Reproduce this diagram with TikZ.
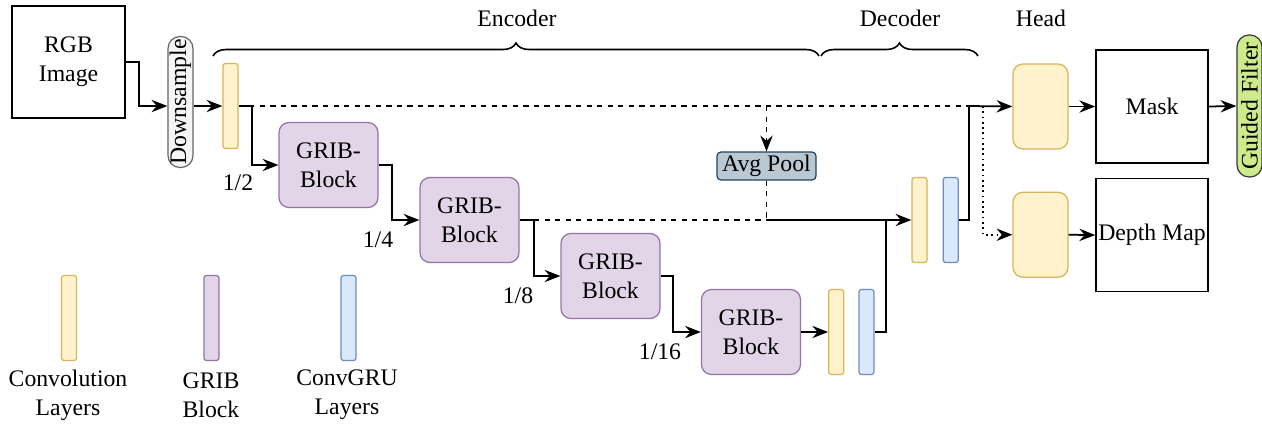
\documentclass[tikz,border=0pt]{standalone}
\usepackage{fontspec}
\setmainfont{Liberation Serif}
\usepackage{xcolor}
\definecolor{convFill}{HTML}{FFF2CC}
\definecolor{convBorder}{HTML}{D6B656}
\definecolor{gribFill}{HTML}{E1D5E7}
\definecolor{gribBorder}{HTML}{9673A6}
\definecolor{gruFill}{HTML}{DAE8FC}
\definecolor{gruBorder}{HTML}{6C8EBF}
\definecolor{downFill}{HTML}{F5F5F5}
\definecolor{downBorder}{HTML}{666666}
\definecolor{poolFill}{HTML}{BAC8D3}
\definecolor{poolBorder}{HTML}{23445D}
\definecolor{filterFill}{HTML}{CDEB8B}
\definecolor{filterBorder}{HTML}{36393D}
\usepackage{tikz}
\usetikzlibrary{arrows.meta,positioning,decorations.pathreplacing,calc}
\newcommand{\diafont}{\fontsize{13.5}{16.5}\selectfont}
\tikzset{
    basic/.style={
        draw=black,
        fill=white,
        rectangle,
        align=center,
        line width=0.9pt,
        inner sep=1pt,
        font=\diafont
    },
    convbar/.style={
        draw=convBorder,
        fill=convFill,
        rectangle,
        rounded corners=0.5mm,
        minimum width=3mm,
        minimum height=17mm,
        inner sep=0pt,
        line width=0.7pt
    },
    grubar/.style={
        convbar,
        draw=gruBorder,
        fill=gruFill
    },
    gribbar/.style={
        convbar,
        draw=gribBorder,
        fill=gribFill
    },
    grib/.style={
        draw=gribBorder,
        fill=gribFill,
        rectangle,
        rounded corners=2mm,
        align=center,
        minimum width=19.8mm,
        minimum height=17mm,
        line width=0.7pt,
        font=\diafont
    },
    headbox/.style={
        convbar,
        rounded corners=2mm,
        minimum width=11mm
    },
    pill/.style={
        draw=downBorder,
        fill=downFill,
        rectangle,
        rounded corners=2.4mm,
        minimum width=5mm,
        inner sep=1pt,
        line width=0.7pt,
        font=\diafont
    },
    pool/.style={
        draw=poolBorder,
        fill=poolFill,
        rectangle,
        rounded corners=0.8mm,
        minimum width=19.8mm,
        minimum height=5.6mm,
        inner sep=1pt,
        line width=0.7pt,
        font=\diafont
    },
    arrow/.style={
        -{Stealth[length=9pt,width=7pt,inset=3pt]},
        line width=1pt,
        color=black
    },
    line/.style={
        line width=1pt,
        color=black
    },
    skip/.style={
        line width=1pt,
        dash pattern=on 3pt off 3pt
    },
    brace/.style={
        decorate,
        decoration={brace,amplitude=2.6mm},
        line width=0.9pt
    },
    label/.style={
        font=\diafont,
        align=center,
        inner sep=0pt
    }
}

\begin{document}
\begin{tikzpicture}[x=0.2mm,y=-0.2mm]
    \useasboundingbox (0,0) rectangle (1262,423);

    % Input and downsampling
    \node[basic, minimum width=22.6mm, minimum height=22.4mm] (rgb) at (68.5,62) {RGB\\Image};
    \node[pill, minimum height=26.2mm] (down) at (180.5,102) {\rotatebox{90}{Downsample}};
    \node[convbar] (conv1) at (230.5,106) {};

    % Encoder
    \node[grib] (grib1) at (328.5,165) {GRIB-\\Block};
    \node[grib] (grib2) at (469.5,220) {GRIB-\\Block};
    \node[grib] (grib3) at (610.5,276) {GRIB-\\Block};
    \node[grib] (grib4) at (751,332) {GRIB-\\Block};

    \node[label] (s1) at (238,183) {1/2};
    \node[label] (s2) at (378,240) {1/4};
    \node[label] (s3) at (518,296) {1/8};
    \node[label] (s4) at (660,352) {1/16};

    % Decoder
    \node[convbar, right=5.4mm of grib4] (conv3) {};
    \node[grubar, right=2.8mm of conv3] (gru3) {};
    \node[convbar] (conv2) at (919.5,220) {};
    \node[grubar, right=3mm of conv2] (gru2) {};
    \node[pool] (pool) at (766.5,166) {Avg Pool};

    % Heads
    \node[headbox] (head1) at (1040.5,106.5) {};
    \node[headbox, below=8.4mm of head1] (head2) {};
    \node[basic, minimum width=22.4mm, minimum height=22.6mm] (mask) at (1152,106.5) {Mask};
    \node[basic, minimum width=22.4mm, minimum height=22.6mm, below=2.8mm of mask] (depth) {Depth Map};
    \node[pill, draw=filterBorder, fill=filterFill, minimum height=28.4mm] (filter) at (1249.5,106) {\rotatebox{90}{Guided Filter}};

    % Section braces
    \draw[brace] (213,56) -- (819,56);
    \draw[brace] (821,56) -- (978,56);
    \node[label] (enc) at (517,18) {Encoder};
    \node[label] (dec) at (900,18) {Decoder};
    \node[label] (hd) at (1041,18) {Head};

    % Junctions
    \coordinate (j1) at (969,106);
    \coordinate (d1) at (983,106);
    \coordinate (b2) at (534,220);
    \coordinate (m1) at (pool.south |- conv2.west);
    \coordinate (m2) at (886,220);

    % Skip connections
    \draw[skip] (conv1.east) -- (j1);
    \draw[skip] (b2) -- (m1);
    \draw[skip] (pool.south) -- (m1);
    \draw[arrow, skip] (pool.north |- conv1.east) -- (pool.north);
    \draw[arrow, dotted] (d1) |- (head2.west);

    % Main path
    \draw[arrow] (rgb.east) -- ++(13.5,0) |- (down.west |- conv1.west);
    \draw[arrow] (down.east |- conv1.west) -- (conv1.west);
    \draw[arrow] (conv1.east) -- ++(13.5,0) |- (grib1.west);
    \draw[arrow] (grib1.east) -- ++(13,0) |- (grib2.west);
    \draw[arrow] (grib2.east) -- (b2) |- (grib3.west);
    \draw[arrow] (grib3.east) -- ++(12,0) |- (grib4.west);
    \draw[arrow] (grib4.east) -- (conv3.west);
    \draw[line] (gru3.east) -| (m2);
    \draw[arrow] (m1) -- (conv2.west);
    \draw[arrow] (gru2.east) -| (j1) -- (head1.west);
    \draw[arrow] (head1.east) -- (mask.west);
    \draw[arrow] (head2.east) -- (depth.west);
    \draw[arrow] (mask.east) -- (filter.west);

    % Legend
    \node[convbar] (lconv) at (69,318) {};
    \node[gribbar] (lgrib) at (211.5,318) {};
    \node[grubar] (lgru) at (348.5,318) {};
    \node[label] (tconv) at (68,395) {Convolution\\Layers};
    \node[label] (tgrib) at (211,395) {GRIB\\Block};
    \node[label] (tgru) at (347,395) {ConvGRU\\Layers};
\end{tikzpicture}
\end{document}
